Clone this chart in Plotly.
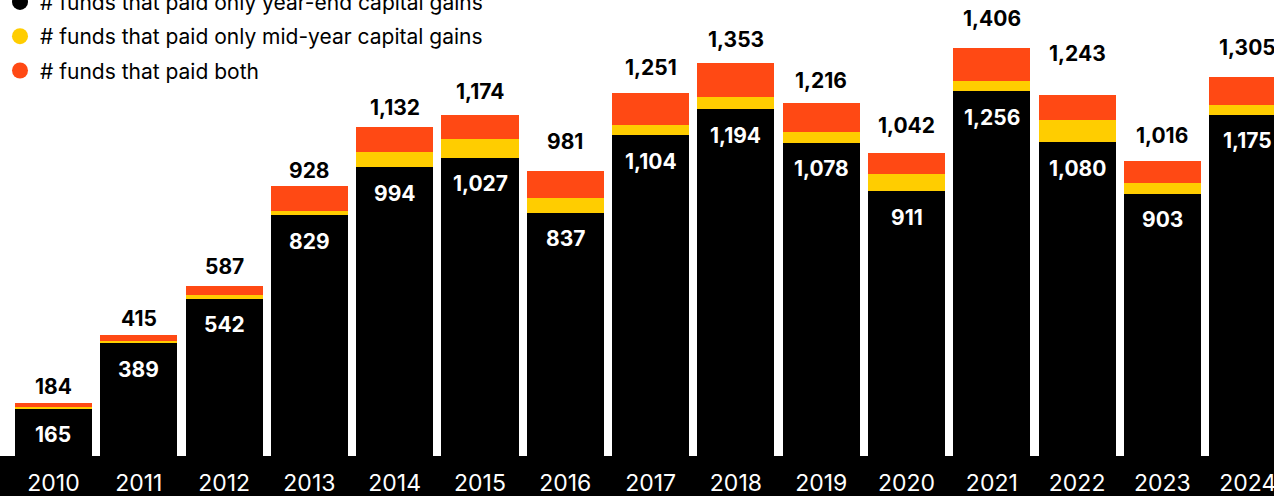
import plotly.graph_objects as go

years = ["2010", "2011", "2012", "2013", "2014", "2015", "2016", "2017",
         "2018", "2019", "2020", "2021", "2022", "2023", "2024"]
year_end_only = [165, 389, 542, 829, 994, 1027, 837, 1104, 1194, 1078, 911, 1256, 1080, 903, 1175]
mid_year_only = [4, 8, 12, 15, 54, 63, 50, 37, 43, 38, 59, 34, 78, 37, 33]
paid_both = [15, 18, 33, 84, 84, 84, 94, 110, 116, 100, 72, 116, 85, 76, 97]
totals = [184, 415, 587, 928, 1132, 1174, 981, 1251, 1353, 1216, 1042, 1406, 1243, 1016, 1305]

# pixel offsets of the total labels above their bars (as placed in the original)
total_label_shift = [16, 17, 19, 16, 20, 24, 30, 25, 24, 22, 28, 29, 41, 25, 29]

names = ["# funds that paid only year-end capital gains",
         "# funds that paid only mid-year capital gains",
         "# funds that paid both"]
colors = ["#000000", "#FFCD00", "#FF4914"]
series = [year_end_only, mid_year_only, paid_both]

FONT = "Inter"

fig = go.Figure()
for name, col, vals in zip(names, colors, series):
    fig.add_trace(go.Bar(x=years, y=vals, name=name, marker=dict(color=col, line=dict(width=0)),
                         showlegend=False, hoverinfo="skip"))
for i, (name, col) in enumerate(zip(names, colors)):
    fig.add_trace(go.Scatter(x=[None], y=[None], mode="markers", name=name,
                             legendgroup=f"g{i}",
                             marker=dict(color=col, size=19, symbol="circle")))

annotations = []
for i, (tot, blk, sh) in enumerate(zip(totals, year_end_only, total_label_shift)):
    annotations.append(dict(x=i, y=tot, xref="x", yref="y", text=f"{tot:,}", showarrow=False,
                            yanchor="middle", yshift=sh,
                            font=dict(family=FONT, size=21, color="#000000", weight=700)))
    annotations.append(dict(x=i, y=blk, xref="x", yref="y", text=f"{blk:,}", showarrow=False,
                            yanchor="middle", yshift=-26,
                            font=dict(family=FONT, size=21, color="#FFFFFF", weight=700)))

fig.update_layout(
    width=1274, height=496,
    margin=dict(l=0, r=0, t=0, b=40, autoexpand=False),
    paper_bgcolor="#FFFFFF", plot_bgcolor="#FFFFFF",
    barmode="stack", bargap=0.097,
    font=dict(family=FONT),
    showlegend=True,
    legend=dict(x=0, y=1.04, xanchor="left", yanchor="top", bgcolor="rgba(0,0,0,0)",
                font=dict(family=FONT, size=21, color="#000000"), tracegroupgap=4,
                traceorder="grouped"),
    xaxis=dict(type="category", range=[-0.627, 14.308], showgrid=False, zeroline=False,
               showline=False, ticks="", tickfont=dict(family=FONT, size=23, color="#FFFFFF"),
               ticklabelstandoff=11),
    yaxis=dict(range=[0, 1570], visible=False, fixedrange=True),
    annotations=annotations,
    shapes=[dict(type="rect", xref="paper", yref="paper", x0=-0.01, x1=1.01, y0=0, y1=-0.2,
                 fillcolor="#000000", line=dict(width=0), layer="below")],
)

fig.write_html("out.html")
